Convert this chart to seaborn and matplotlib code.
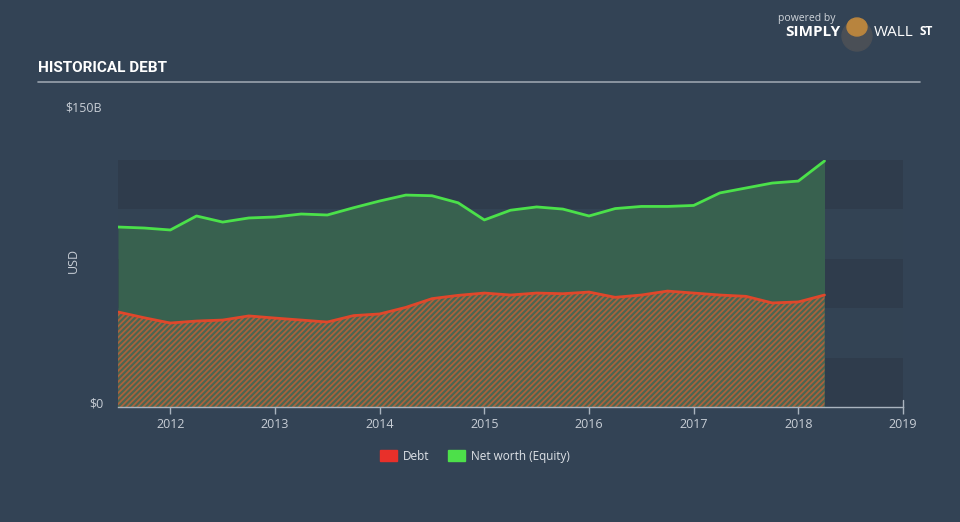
import matplotlib
matplotlib.use("Agg")
import matplotlib.pyplot as plt
import matplotlib.patches as mpatches
import seaborn as sns
import pandas as pd

# ---- data (USD billions) ----
dates = [2011.5, 2011.75, 2012.0, 2012.25, 2012.5, 2012.75, 2013.0, 2013.25,
         2013.5, 2013.75, 2014.0, 2014.25, 2014.5, 2014.75, 2015.0, 2015.25,
         2015.5, 2015.75, 2016.0, 2016.25, 2016.5, 2016.75, 2017.0, 2017.25,
         2017.5, 2017.75, 2018.0, 2018.25]
debt = [57.7, 54.2, 51.0, 52.2, 52.8, 55.3, 54.0, 52.8,
        51.6, 55.5, 56.5, 60.5, 65.8, 67.8, 69.2, 68.0,
        69.2, 68.8, 69.8, 66.6, 68.0, 70.4, 69.2, 68.0,
        67.2, 63.2, 63.8, 68.0]
equity = [109.3, 108.7, 107.5, 116.0, 112.3, 114.8, 115.4, 117.2,
          116.6, 121.0, 125.1, 128.7, 128.3, 124.0, 113.6, 119.5,
          121.5, 120.2, 116.0, 120.5, 121.8, 121.8, 122.4, 130.0,
          133.0, 136.0, 137.2, 149.4]
year_ticks = [2012, 2013, 2014, 2015, 2016, 2017, 2018, 2019]
y_labels = ["$0", "$150B"]
legend_labels = ["Debt", "Net worth (Equity)"]

df = pd.DataFrame({"date": dates, "Debt": debt, "Equity": equity})

BG = "#334355"
sns.set_theme(style="dark")
plt.rcParams["font.family"] = ["Open Sans", "DejaVu Sans"]
plt.rcParams["hatch.linewidth"] = 1.3

fig = plt.figure(figsize=(9.6, 5.22), dpi=100)
fig.patch.set_facecolor(BG)
ax = fig.add_axes([118 / 960, 1 - 407 / 522, (903 - 118) / 960, (407 - 160) / 522])
ax.set_facecolor(BG)

# subtle horizontal bands
for i in range(5):
    ax.axhspan(i * 30, (i + 1) * 30, color=("#2f3c4c" if i % 2 == 0 else "#334354"),
               lw=0, zorder=0)

# areas
ax.fill_between(df["date"], 0, df["Equity"], color="#38614f", lw=0, zorder=1)
ax.fill_between(df["date"], 0, df["Debt"], facecolor="#4a6651", edgecolor="#a9623d",
                hatch="//////", lw=0, zorder=2)

sns.lineplot(data=df, x="date", y="Equity", ax=ax, color="#4be14a", lw=2, zorder=4)
sns.lineplot(data=df, x="date", y="Debt", ax=ax, color="#e0472b", lw=2, zorder=4)

ax.set_xlim(2011.5, 2019.0)
ax.set_ylim(0, 150)
ax.set_yticks([])
ax.set_xticks(year_ticks)
ax.set_xticklabels([str(y) for y in year_ticks], color="#c8ced6", fontsize=9)
ax.tick_params(axis="x", length=5, width=1, color="#aab4bf", pad=3, bottom=True)
ax.set_xlabel("")
ax.set_ylabel("")
for s in ["top", "left", "right"]:
    ax.spines[s].set_visible(False)
ax.spines["bottom"].set_color("#aab4bf")
ax.spines["bottom"].set_linewidth(1)
ax.grid(False)
ax.plot([1, 1], [0, 0.03], transform=ax.transAxes, color="#aab4bf", lw=1, clip_on=False)

# texts
fig.text(38 / 960, 1 - 68 / 522, "HISTORICAL DEBT", color="white", fontsize=11,
         fontweight="bold", family=["Roboto", "DejaVu Sans"], va="center")
fig.add_artist(plt.Line2D([38 / 960, 920 / 960], [1 - 82 / 522, 1 - 82 / 522],
                          color="#9aa3ad", lw=1.2))
fig.text(84 / 960, 1 - 108 / 522, y_labels[1], color="#c8ced6", fontsize=9, ha="center", va="center")
fig.text(103 / 960, 1 - 404 / 522, y_labels[0], color="#c8ced6", fontsize=9, ha="right", va="center")
fig.text(73 / 960, 1 - 260 / 522, "USD", color="#c8ced6", fontsize=9, rotation=90,
         ha="center", va="center")

# logo text
fig.text(835 / 960, 1 - 18 / 522, "powered by", color="#d0d5db", fontsize=7.5, ha="right", va="center")
fig.text(840 / 960, 1 - 32 / 522, "SIMPLY", color="white", fontsize=11, fontweight="bold",
         ha="right", va="center")
fig.text(874 / 960, 1 - 32 / 522, "WALL", color="white", fontsize=11, ha="left", va="center")
fig.text(920 / 960, 1 - 31 / 522, "ST", color="white", fontsize=8.5, fontweight="bold",
         ha="left", va="center")
fig.add_artist(mpatches.Ellipse((857 / 960, 1 - 36 / 522), 30 / 960, 30 / 522,
                                transform=fig.transFigure, color="#4a4f56"))
fig.add_artist(mpatches.Ellipse((857 / 960, 1 - 27 / 522), 20 / 960, 18 / 522,
                                transform=fig.transFigure, color="#b8843e"))

# legend
handles = [mpatches.Patch(color="#e8302a"), mpatches.Patch(color="#4de04a")]
leg = fig.legend(handles, legend_labels, loc="center", bbox_to_anchor=(475 / 960, 1 - 456 / 522),
                 ncol=2, frameon=False, fontsize=8.5, handlelength=1.4, handleheight=1.0,
                 columnspacing=1.6, handletextpad=0.5)
for t in leg.get_texts():
    t.set_color("#dfe3e8")

fig.savefig("out.png", dpi=100, facecolor=BG)
